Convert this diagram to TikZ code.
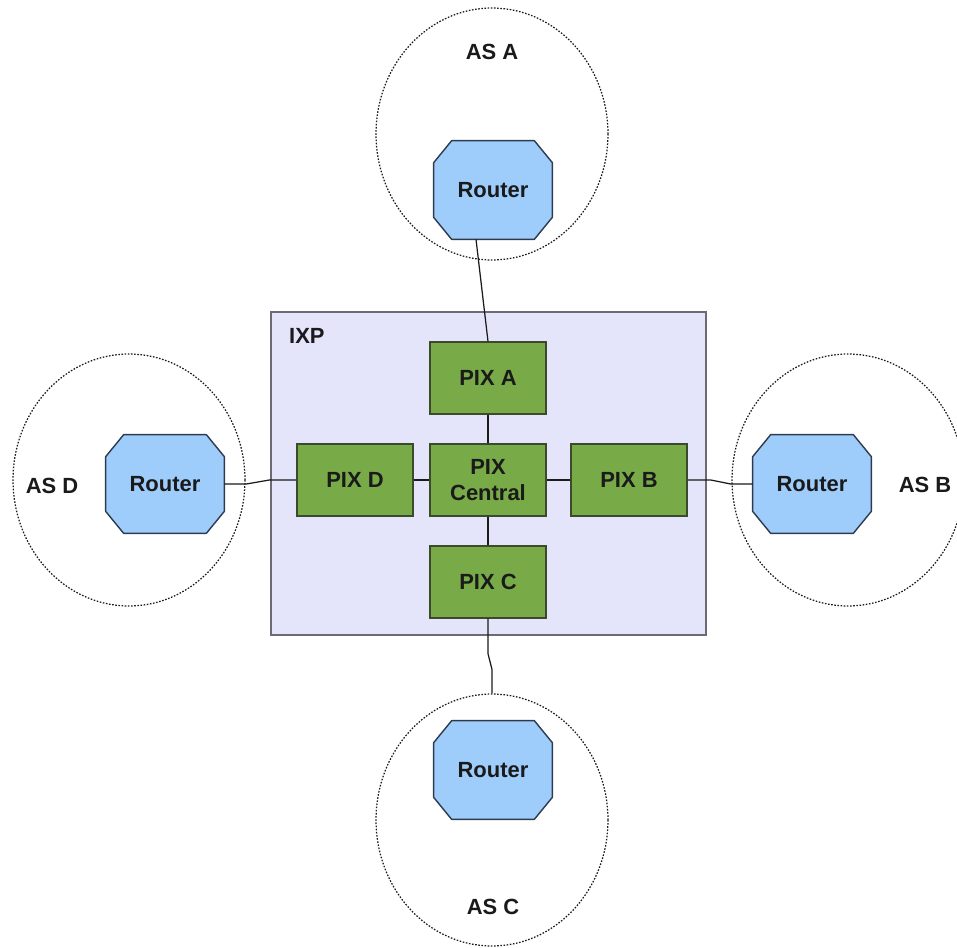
\documentclass[tikz,border=0pt]{standalone}
\usepackage{fontspec}
\setmainfont{Liberation Sans}
\usetikzlibrary{shapes.geometric,calc,backgrounds}
\definecolor{ink}     {HTML}{1A1A1A}
\definecolor{routerln}{HTML}{2E3B4E}
\definecolor{routerbg}{HTML}{9ECDFB}
\definecolor{pixln}   {HTML}{3A4A2A}
\definecolor{pixbg}   {HTML}{78AA48}
\definecolor{ixpln}   {HTML}{6B6B78}
\definecolor{ixpbg}   {HTML}{E4E4FA}
\tikzset{
  router/.style  ={rectangle, minimum width=2.36cm, minimum height=1.96cm,
                   inner sep=0pt, font=\fontsize{12.5}{15}\selectfont\bfseries,
                   text=ink},
  routerline/.style={draw=routerln, fill=routerbg, line width=0.8pt,
                   line join=round},
  pix/.style     ={rectangle, draw=pixln, fill=pixbg, line width=0.8pt,
                   minimum width=2.32cm, minimum height=1.44cm, inner sep=0pt,
                   align=center, font=\fontsize{12.5}{15}\selectfont\bfseries,
                   text=ink},
  asreg/.style   ={ellipse, draw=ink, dash pattern=on 0.9pt off 0.9pt,
                   line width=0.7pt, minimum width=4.64cm, minimum height=5.04cm,
                   inner sep=0pt},
  ixpbox/.style  ={rectangle, draw=ixpln, fill=ixpbg, line width=0.9pt,
                   minimum width=8.7cm, minimum height=6.46cm},
  lbl/.style     ={font=\fontsize{12.5}{15}\selectfont\bfseries, text=ink},
  link/.style    ={draw=ink, line width=0.7pt},
}

\begin{document}
\begin{tikzpicture}[x=0.02cm,y=-0.02cm]
  \useasboundingbox (0,0) rectangle (957,947);

  % autonomous systems
  \node[asreg] (asA) at (492,134) {};
  \node[asreg] (asB) at (848,480) {};
  \node[asreg] (asC) at (492,820) {};
  \node[asreg] (asD) at (129,480) {};
  \node[lbl] (labA) at (492,52)  {AS A};
  \node[lbl] (labB) at (925,485) {AS B};
  \node[lbl] (labC) at (493,907) {AS C};
  \node[lbl] (labD) at (52,486)  {AS D};

  \node[router] (rA) at (493,190) {Router};
  \node[router] (rB) at (812,484) {Router};
  \node[router] (rC) at (493,770) {Router};
  \node[router] (rD) at (165,484) {Router};

  % octagon outline behind each router label
  \begin{scope}[on background layer]
    \foreach \r in {rA,rB,rC,rD}
      \draw[routerline] ($(\r.north west)+(18,0)$) -- ($(\r.north east)+(-18,0)$)
        -- ($(\r.north east)+(0,22)$) -- ($(\r.south east)+(0,-22)$)
        -- ($(\r.south east)+(-18,0)$) -- ($(\r.south west)+(18,0)$)
        -- ($(\r.south west)+(0,-22)$) -- ($(\r.north west)+(0,22)$) -- cycle;
  \end{scope}

  % exchange point
  \node[ixpbox] (ixp) at (488.5,473.5) {};
  \node[lbl,anchor=west] (ixplab) at (283,336) {IXP};
  \node[pix] (pixA)   at (488,378) {PIX A};
  \node[pix] (pixCen) at (488,480) {PIX\\Central};
  \node[pix] (pixB)   at (629,480) {PIX B};
  \node[pix] (pixC)   at (488,582) {PIX C};
  \node[pix] (pixD)   at (355,480) {PIX D};

  \draw[link] (pixA) -- (pixCen);
  \draw[link] (pixC) -- (pixCen);
  \draw[link] (pixB) -- (pixCen);
  \draw[link] (pixD) -- (pixCen);

  \draw[link] (rA.251) -- (pixA.north);
  \draw[link] (rD.east) -- ++(22,0) -- ($(pixD.west)+(-27,0)$) -- (pixD.west);
  \draw[link] (pixB.east) -- ++(23,0) -- ($(rB.west)+(-22,0)$) -- (rB.west);
  \draw[link] (pixC.south) -- ++(0,35) -- ($(asC.north)+(0,-24)$) -- (asC.north);
\end{tikzpicture}
\end{document}
